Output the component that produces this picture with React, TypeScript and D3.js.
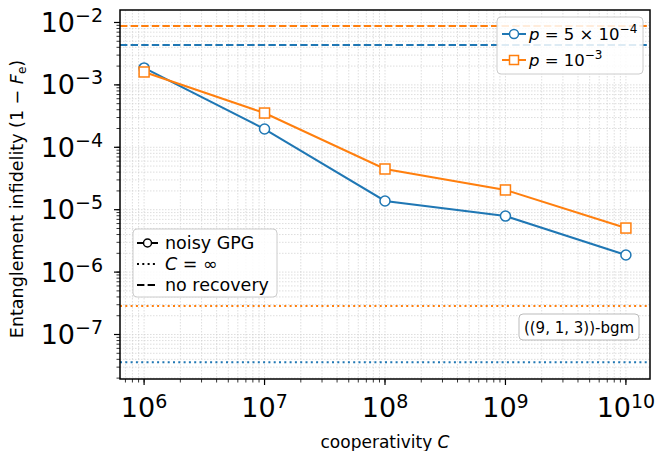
import React from "react";
import * as d3 from "d3";

const cooperativity = [1e6, 1e7, 1e8, 1e9, 1e10];
const infidelityP5e4 = [1.87e-3, 1.96e-4, 1.38e-5, 7.9e-6, 1.88e-6];
const infidelityP1e3 = [1.61e-3, 3.54e-4, 4.49e-5, 2.07e-5, 5.08e-6];
const noRecovery = [4.36e-3, 8.8e-3]; // p=5e-4, p=1e-3
const cInfinity = [3.6e-8, 2.86e-7];
const xTickExps = [6, 7, 8, 9, 10];
const yTickExps = [-2, -3, -4, -5, -6, -7];
const colors = ["#1f77b4", "#ff7f0e"];

const W = 657, H = 451;
const L = 120, R = 650, T = 10, B = 379;
const FONT = "DejaVu Sans, sans-serif";

export default function App() {
  const x = d3.scaleLog().domain([Math.pow(10, 5.8), Math.pow(10, 10.2)]).range([L, R]);
  const y = d3.scaleLog().domain([Math.pow(10, -7.713), Math.pow(10, -1.80)]).range([B, T]);

  const xMinor: number[] = [];
  for (let e = 5; e <= 10; e++) for (let m = 1; m <= 9; m++) {
    const v = m * Math.pow(10, e);
    if (v >= x.domain()[0] && v <= x.domain()[1]) xMinor.push(v);
  }
  const yMinor: number[] = [];
  for (let e = -8; e <= -2; e++) for (let m = 1; m <= 9; m++) {
    const v = m * Math.pow(10, e);
    if (v >= y.domain()[0] && v <= y.domain()[1]) yMinor.push(v);
  }

  const line = d3.line<number>().x((_, i) => x(cooperativity[i])).y((d) => y(d));
  const series = [infidelityP5e4, infidelityP1e3];

  return (
    <svg width={W} height={H} style={{ position: "absolute", left: 0, top: 0 }} fontFamily={FONT}>
      <rect x={0} y={0} width={W} height={H} fill="white" />
      <defs>
        <clipPath id="clip"><rect x={L} y={T} width={R - L} height={B - T} /></clipPath>
      </defs>
      {/* grid */}
      <g stroke="#d0d0d0" strokeWidth={0.7} strokeDasharray="1.5,1.5">
        {xMinor.map((v, i) => <line key={"gx" + i} x1={x(v)} x2={x(v)} y1={T} y2={B} />)}
        {yMinor.map((v, i) => <line key={"gy" + i} x1={L} x2={R} y1={y(v)} y2={y(v)} />)}
      </g>
      <g clipPath="url(#clip)">
        {noRecovery.map((v, i) => (
          <line key={"nr" + i} x1={L} x2={R} y1={y(v)} y2={y(v)} stroke={colors[i]} strokeWidth={2} strokeDasharray="7.4,3.2" />
        ))}
        {cInfinity.map((v, i) => (
          <line key={"ci" + i} x1={L} x2={R} y1={y(v)} y2={y(v)} stroke={colors[i]} strokeWidth={2} strokeDasharray="2,3.3" />
        ))}
        {series.map((s, si) => (
          <path key={"l" + si} d={line(s) || ""} fill="none" stroke={colors[si]} strokeWidth={2} />
        ))}
        {series[0].map((v, i) => (
          <circle key={"c" + i} cx={x(cooperativity[i])} cy={y(v)} r={5} fill="white" stroke={colors[0]} strokeWidth={1.5} />
        ))}
        {series[1].map((v, i) => (
          <rect key={"s" + i} x={x(cooperativity[i]) - 5} y={y(v) - 5} width={10} height={10} fill="white" stroke={colors[1]} strokeWidth={1.5} />
        ))}
      </g>
      {/* spines */}
      <rect x={L} y={T} width={R - L} height={B - T} fill="none" stroke="black" strokeWidth={1.5} />
      {/* x ticks */}
      {xMinor.map((v, i) => <line key={"xm" + i} x1={x(v)} x2={x(v)} y1={B} y2={B + 3.5} stroke="black" strokeWidth={0.8} />)}
      {xTickExps.map((e) => {
        const px = x(Math.pow(10, e));
        return (
          <g key={"xt" + e}>
            <line x1={px} x2={px} y1={B} y2={B + 6} stroke="black" strokeWidth={1.2} />
            <text x={px} y={B + 38} textAnchor="middle" fontSize={27} fill="black">
              10<tspan dy={-9} fontSize={19}>{e}</tspan>
            </text>
          </g>
        );
      })}
      {/* y ticks */}
      {yMinor.map((v, i) => <line key={"ym" + i} x1={L - 3.5} x2={L} y1={y(v)} y2={y(v)} stroke="black" strokeWidth={0.8} />)}
      {yTickExps.map((e) => {
        const py = y(Math.pow(10, e));
        return (
          <g key={"yt" + e}>
            <line x1={L - 6} x2={L} y1={py} y2={py} stroke="black" strokeWidth={1.2} />
            <text x={103} y={py + 9.4} textAnchor="end" fontSize={27} fill="black">
              10<tspan dy={-10} fontSize={19}>{"\u2212" + Math.abs(e)}</tspan>
            </text>
          </g>
        );
      })}
      {/* axis labels */}
      <text x={(L + R) / 2} y={448} textAnchor="middle" fontSize={17} fill="black">
        cooperativity <tspan fontStyle="italic">C</tspan>
      </text>
      <text transform={`translate(23,199) rotate(-90)`} textAnchor="middle" fontSize={17.5} fill="black">
        Entanglement infidelity (1 {"\u2212"} <tspan fontStyle="italic">F</tspan><tspan fontSize={12} dy={3}>e</tspan><tspan dy={-3}>)</tspan>
      </text>
      {/* legend 1 */}
      <g>
        <rect x={497} y={17} width={146} height={57} rx={4} fill="white" fillOpacity={0.85} stroke="#cccccc" strokeWidth={1} />
        <line x1={502} x2={526} y1={34} y2={34} stroke={colors[0]} strokeWidth={2} />
        <circle cx={514} cy={34} r={4.5} fill="white" stroke={colors[0]} strokeWidth={1.5} />
        <text x={529} y={40} fontSize={16.5}>
          <tspan fontStyle="italic">p</tspan> = 5 × 10<tspan dy={-7} fontSize={12}>{"\u2212"}4</tspan>
        </text>
        <line x1={502} x2={526} y1={60} y2={60} stroke={colors[1]} strokeWidth={2} />
        <rect x={509.5} y={55.5} width={9} height={9} fill="white" stroke={colors[1]} strokeWidth={1.5} />
        <text x={529} y={66} fontSize={16.5}>
          <tspan fontStyle="italic">p</tspan> = 10<tspan dy={-7} fontSize={12}>{"\u2212"}3</tspan>
        </text>
      </g>
      {/* legend 2 */}
      <g>
        <rect x={133} y={229} width={144} height={68} rx={4} fill="white" fillOpacity={0.85} stroke="#cccccc" strokeWidth={1} />
        <line x1={137} x2={158} y1={243} y2={243} stroke="black" strokeWidth={2} />
        <circle cx={147.5} cy={243} r={4} fill="white" stroke="black" strokeWidth={1.5} />
        <text x={165} y={249} fontSize={17.5}>noisy GPG</text>
        <line x1={137} x2={158} y1={264} y2={264} stroke="black" strokeWidth={2} strokeDasharray="2,3.3" />
        <text x={165} y={270} fontSize={17.5}>
          <tspan fontStyle="italic">C</tspan> = ∞
        </text>
        <line x1={137} x2={158} y1={285} y2={285} stroke="black" strokeWidth={2} strokeDasharray="7.4,3.2" />
        <text x={165} y={291} fontSize={17.5}>no recovery</text>
      </g>
      {/* annotation */}
      <g>
        <rect x={519} y={314} width={120} height={26} rx={4} fill="white" stroke="#bbbbbb" strokeWidth={1} />
        <text x={579} y={332.5} textAnchor="middle" fontSize={15}>((9, 1, 3))-bgm</text>
      </g>
    </svg>
  );
}
